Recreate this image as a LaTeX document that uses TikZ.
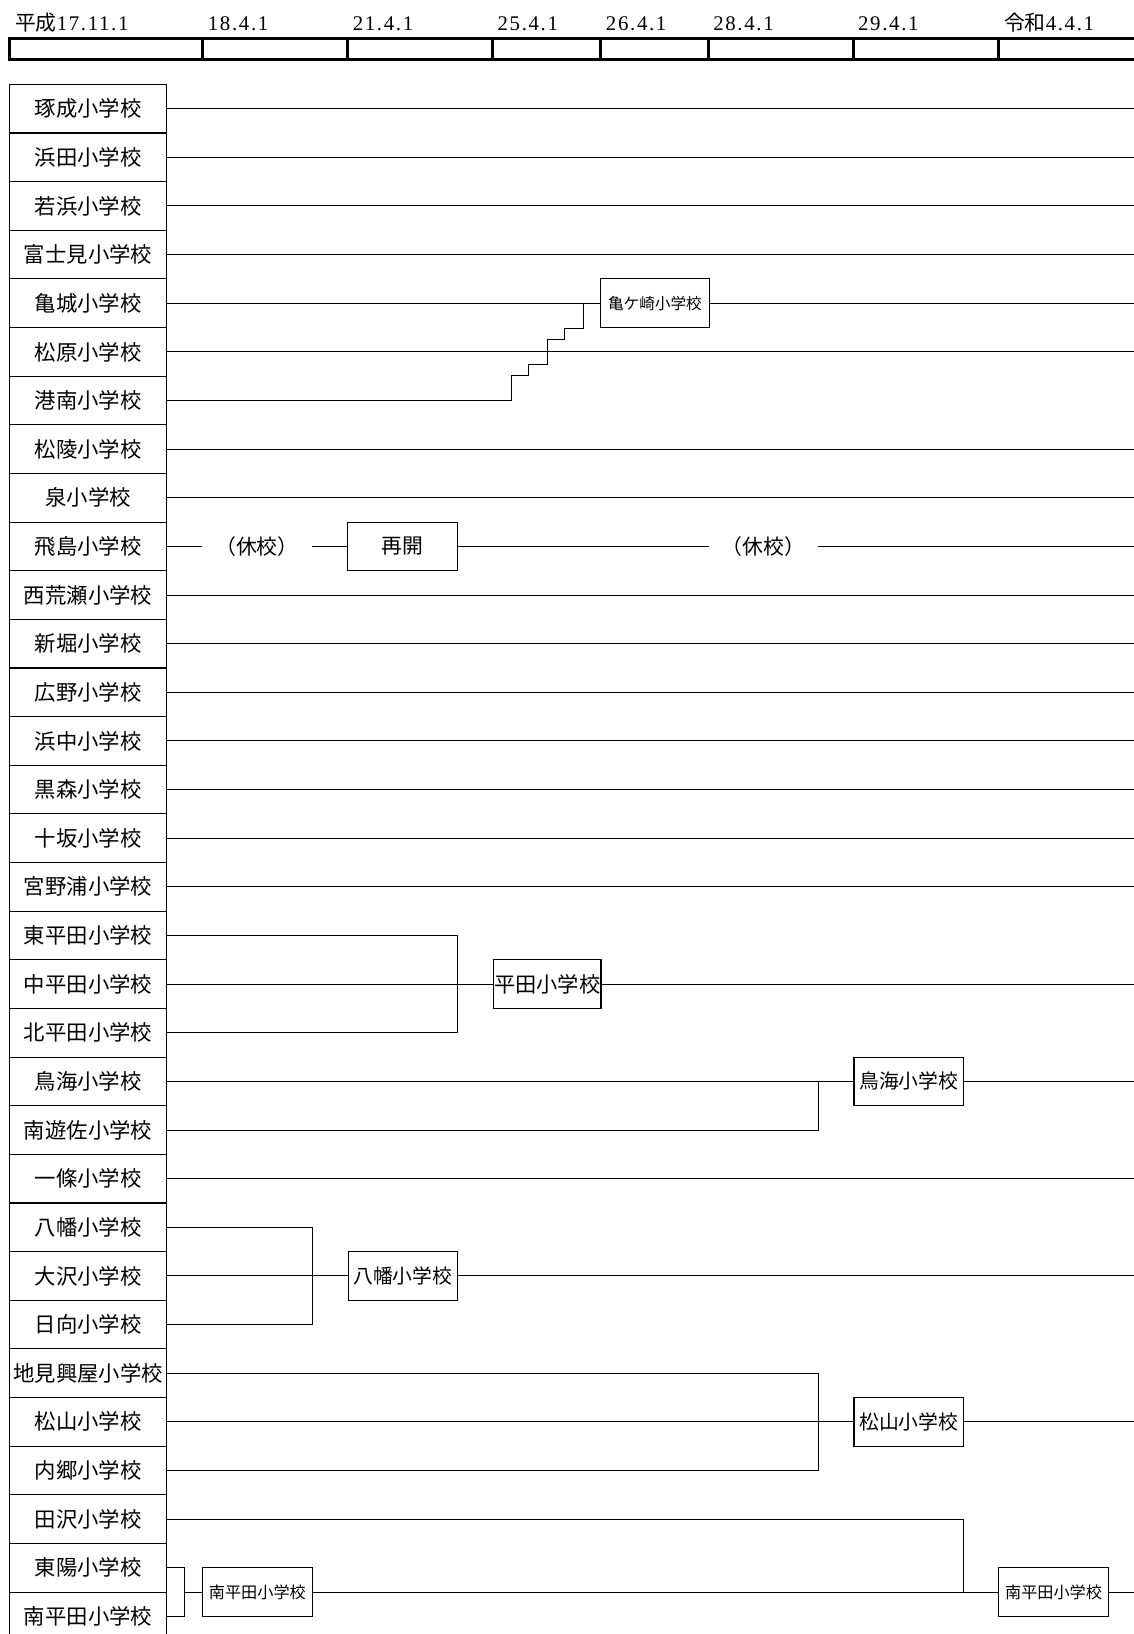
\documentclass[tikz,border=0pt]{standalone}
\usepackage{fontspec}
\setmainfont{Liberation Serif}
\newfontfamily\jp{Noto Sans CJK JP}
\newfontfamily\datefont[LetterSpace=8]{Liberation Serif}
\begin{document}
\begin{tikzpicture}[x=1pt,y=-1pt,line width=1pt,
  lbox/.style={draw,minimum width=151pt,minimum height=46.67pt,inner sep=0pt,font=\jp\fontsize{20.5}{22}\selectfont},
  mbox/.style={draw,minimum width=105pt,minimum height=46.67pt,inner sep=0pt,font=\jp\fontsize{19}{21}\selectfont},
  sbox/.style={mbox,font=\jp\fontsize{15.5}{18}\selectfont},
  gap/.style={minimum width=104pt,inner sep=0pt,font=\jp\fontsize{20}{22}\selectfont},
  datelbl/.style={anchor=base west,inner sep=0pt,font=\datefont\fontsize{20}{22}\selectfont},
  bar/.style={line width=2.6pt}]
\useasboundingbox (0,0) rectangle (1088,1568);
% header
\draw[bar] (1088,37) -- (9,37) -- (9,57) -- (1088,57);
\foreach \x in {194,333.5,472.5,576,680,819,958}
  \draw[bar] (\x,37) -- (\x,57);
\node[datelbl] (d0) at (14,29) {{\jp 平成}17.11.1};
\node[datelbl] (d1) at (199,29) {18.4.1};
\node[datelbl] (d2) at (338,29) {21.4.1};
\node[datelbl] (d3) at (477,29) {25.4.1};
\node[datelbl] (d4) at (581,29) {26.4.1};
\node[datelbl] (d5) at (684,29) {28.4.1};
\node[datelbl] (d6) at (823,29) {29.4.1};
\node[datelbl] (d7) at (963,29) {{\jp 令和}4.4.1};
% left column
\foreach \t [count=\i from 0] in {琢成小学校,浜田小学校,若浜小学校,富士見小学校,亀城小学校,松原小学校,港南小学校,松陵小学校,泉小学校,飛島小学校,西荒瀬小学校,新堀小学校,広野小学校,浜中小学校,黒森小学校,十坂小学校,宮野浦小学校,東平田小学校,中平田小学校,北平田小学校,鳥海小学校,南遊佐小学校,一條小学校,八幡小学校,大沢小学校,日向小学校,地見興屋小学校,松山小学校,内郷小学校,田沢小学校,東陽小学校,南平田小学校}{
  \pgfmathsetmacro\yy{104.3+46.67*\i}
  \node[lbox] (r\i) at (84.5,\yy) {\t};
  \coordinate (e\i) at (1088,\yy);
}
% plain lines
\foreach \i in {0,1,2,3,5,7,8,10,11,12,13,14,15,16,22}
  \draw (r\i.east) -- (e\i);
% Kamegasaki
\node[sbox,minimum width=104pt,font=\jp\fontsize{15}{18}\selectfont] (kame) at ([xshift=468pt]r4.east) {亀ケ崎小学校};
\draw (r4.east) -- (kame) -- (e4);
\draw (r6.east) -- ++(330.6,0) -- ++(0,-24.3) -- ++(16.3,0) -- ++(0,-10.5) -- ++(17.6,0)
  -- ++(0,-23.9) -- ++(16.9,0) -- ++(0,-10.6) -- ++(17.6,0) coordinate (st) -- (st |- r4.east);
% Tobishima
\node[gap] (kyu1) at ([xshift=86pt]r9.east) {（休校）};
\node[mbox,font=\jp\fontsize{20}{22}\selectfont] (saikai) at ([xshift=225.75pt]r9.east) {再開};
\node[gap] (kyu2) at ([xshift=572pt]r9.east) {（休校）};
\draw (r9.east) -- (kyu1) -- (saikai) -- (kyu2) -- (e9);
% Hirata
\node[mbox,minimum width=103pt,font=\jp\fontsize{20.4}{22}\selectfont] (hirata) at ([xshift=364.7pt]r18.east) {平田小学校};
\path (r17.east) ++(278.8,0) coordinate (j1);
\draw (r17.east) -- (j1) |- (r19.east);
\draw (r18.east) -- (hirata) -- (e18);
% Chokai
\node[mbox] (chokai) at ([xshift=711.5pt]r20.east) {鳥海小学校};
\path (r20.east) ++(624.5,0) coordinate (j2);
\draw (r21.east) -| (j2);
\draw (r20.east) -- (chokai) -- (e20);
% Yawata
\node[mbox] (yawata) at ([xshift=226pt]r24.east) {八幡小学校};
\path (r23.east) ++(139,0) coordinate (j3);
\draw (r23.east) -- (j3) |- (r25.east);
\draw (r24.east) -- (yawata) -- (e24);
% Matsuyama
\node[mbox] (matsuyama) at ([xshift=711.5pt]r27.east) {松山小学校};
\path (r26.east) ++(624.5,0) coordinate (j4);
\draw (r26.east) -- (j4) |- (r28.east);
\draw (r27.east) -- (matsuyama) -- (e27);
% Minami-Hirata
\path (r30.east) ++(17,0) coordinate (j5);
\path (j5) ++(0,23.335) coordinate (jm);
\node[sbox] (mh1) at ([xshift=69.5pt]jm) {南平田小学校};
\node[sbox] (mh2) at ([xshift=833.5pt]jm) {南平田小学校};
\path (jm) ++(911,0) coordinate (eS);
\draw (r30.east) -- (j5) |- (r31.east);
\draw (jm) -- (mh1) -- (mh2) -- (eS);
\path (r29.east) ++(764,0) coordinate (j6);
\draw (r29.east) -- (j6) -- (j6 |- mh2);
\end{tikzpicture}
\end{document}
